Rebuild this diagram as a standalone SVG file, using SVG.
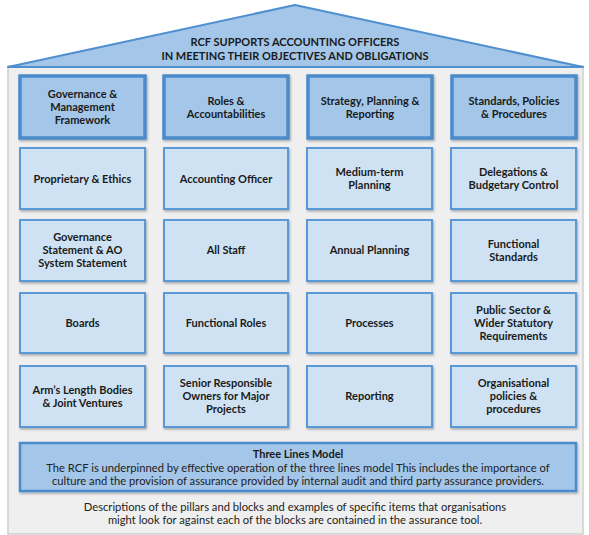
<svg xmlns="http://www.w3.org/2000/svg" width="589" height="535" viewBox="0 0 589 535">
<defs>
<filter id="sh" x="-10%" y="-10%" width="120%" height="130%">
<feDropShadow dx="1" dy="1.5" stdDeviation="1" flood-color="#000" flood-opacity="0.3"/>
</filter>
</defs>
<style>
.hd{fill:#a3c6e9;stroke:#4a8bcb;stroke-width:3.5;filter:url(#sh)}
.bx{fill:#cfe2f3;stroke:#5a98d6;stroke-width:2;filter:url(#sh)}
.t{font-family:Lato,"Open Sans",sans-serif;font-weight:bold;font-size:11px;fill:#1a1a1a;text-anchor:middle}
.n{font-family:Lato,"Open Sans",sans-serif;font-size:11.2px;fill:#222;text-anchor:middle}
</style>
<rect x="8" y="66" width="575" height="468" fill="#efefef" stroke="#cfcfcf" stroke-width="1.5"/>
<g id="roof">
<polygon points="8,67 295,5 583,67" fill="#a3c6e9" stroke="#4f8fcf" stroke-width="2" stroke-linejoin="round"/>
<text class="t" x="295" y="46">RCF SUPPORTS ACCOUNTING OFFICERS</text>
<text class="t" x="295" y="60">IN MEETING THEIR OBJECTIVES AND OBLIGATIONS</text>
</g>
<g id="h1"><rect class="hd" x="20" y="76" width="125" height="62"/><text class="t" x="82.5" y="98">Governance &amp;</text><text class="t" x="82.5" y="111">Management</text><text class="t" x="82.5" y="124">Framework</text></g>
<g id="h2"><rect class="hd" x="164" y="76" width="124" height="62"/><text class="t" x="226" y="105">Roles &amp;</text><text class="t" x="226" y="118">Accountabilities</text></g>
<g id="h3"><rect class="hd" x="308" y="76" width="124" height="62"/><text class="t" x="370" y="105">Strategy, Planning &amp;</text><text class="t" x="370" y="118">Reporting</text></g>
<g id="h4"><rect class="hd" x="452" y="76" width="124" height="62"/><text class="t" x="514" y="105">Standards, Policies</text><text class="t" x="514" y="118">&amp; Procedures</text></g>

<g id="b11"><rect class="bx" x="20" y="148" width="125" height="61"/><text class="t" x="82.5" y="183">Proprietary &amp; Ethics</text></g>
<g id="b12"><rect class="bx" x="164" y="148" width="124" height="61"/><text class="t" x="226" y="183">Accounting Officer</text></g>
<g id="b13"><rect class="bx" x="307" y="148" width="125" height="61"/><text class="t" x="369.5" y="176">Medium-term</text><text class="t" x="369.5" y="189">Planning</text></g>
<g id="b14"><rect class="bx" x="451" y="148" width="125" height="61"/><text class="t" x="513.5" y="176">Delegations &amp;</text><text class="t" x="513.5" y="189">Budgetary Control</text></g>

<g id="b21"><rect class="bx" x="20" y="220" width="125" height="61"/><text class="t" x="82.5" y="241">Governance</text><text class="t" x="82.5" y="254">Statement &amp; AO</text><text class="t" x="82.5" y="267">System Statement</text></g>
<g id="b22"><rect class="bx" x="164" y="220" width="124" height="61"/><text class="t" x="226" y="254">All Staff</text></g>
<g id="b23"><rect class="bx" x="307" y="220" width="125" height="61"/><text class="t" x="369.5" y="254">Annual Planning</text></g>
<g id="b24"><rect class="bx" x="451" y="220" width="125" height="61"/><text class="t" x="513.5" y="248">Functional</text><text class="t" x="513.5" y="261">Standards</text></g>

<g id="b31"><rect class="bx" x="20" y="293" width="125" height="60"/><text class="t" x="82.5" y="327">Boards</text></g>
<g id="b32"><rect class="bx" x="164" y="293" width="124" height="60"/><text class="t" x="226" y="327">Functional Roles</text></g>
<g id="b33"><rect class="bx" x="307" y="293" width="125" height="60"/><text class="t" x="369.5" y="327">Processes</text></g>
<g id="b34"><rect class="bx" x="451" y="293" width="125" height="60"/><text class="t" x="513.5" y="314">Public Sector &amp;</text><text class="t" x="513.5" y="327">Wider Statutory</text><text class="t" x="513.5" y="340">Requirements</text></g>

<g id="b41"><rect class="bx" x="20" y="366" width="125" height="61"/><text class="t" x="82.5" y="394">Arm’s Length Bodies</text><text class="t" x="82.5" y="407">&amp; Joint Ventures</text></g>
<g id="b42"><rect class="bx" x="164" y="366" width="124" height="61"/><text class="t" x="226" y="387">Senior Responsible</text><text class="t" x="226" y="400">Owners for Major</text><text class="t" x="226" y="413">Projects</text></g>
<g id="b43"><rect class="bx" x="307" y="366" width="125" height="61"/><text class="t" x="369.5" y="400">Reporting</text></g>
<g id="b44"><rect class="bx" x="451" y="366" width="125" height="61"/><text class="t" x="513.5" y="387">Organisational</text><text class="t" x="513.5" y="400">policies &amp;</text><text class="t" x="513.5" y="413">procedures</text></g>

<g id="three"><rect class="hd" style="stroke-width:2.5" x="20" y="443" width="556" height="48"/>
<text class="t" x="298" y="458">Three Lines Model</text>
<text class="n" x="298" y="472">The RCF is underpinned by effective operation of the three lines model  This includes the importance of</text>
<text class="n" x="298" y="485">culture and the provision of assurance provided by internal audit and third party assurance providers.</text>
</g>
<g id="note">
<text class="n" x="295" y="511">Descriptions of the pillars and blocks and examples of specific items that organisations</text>
<text class="n" x="295" y="524">might look for against each of the blocks are contained in the assurance tool.</text>
</g>
<g id="connectors"/>
</svg>
